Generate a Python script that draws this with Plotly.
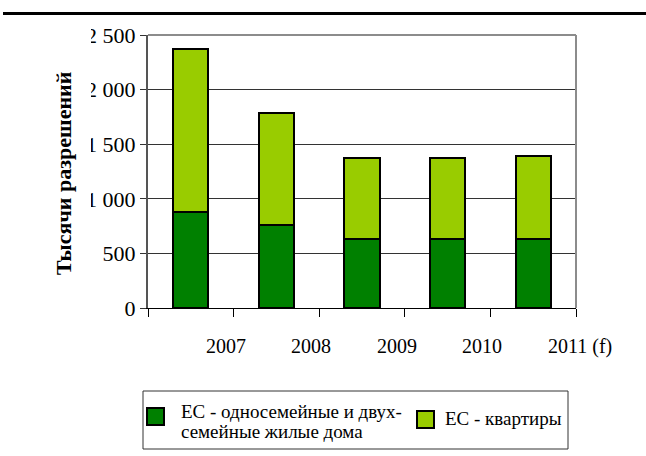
import plotly.graph_objects as go

# Building permits in the EU, thousands
years = ["2007", "2008", "2009", "2010", "2011 (f)"]
houses = [880, 760, 635, 635, 635]          # single- and two-family houses
apartments = [1490, 1030, 735, 735, 755]    # apartments
series_names = ["ЕС - односемейные и двух-<br>семейные жилые дома", "ЕС - квартиры"]
series_colors = ["#008000", "#99CC00"]
y_ticks = [0, 500, 1000, 1500, 2000, 2500]
y_tick_text = ["0", "500", "1 000", "1 500", "2 000", "2 500"]
y_title = "Тысячи разрешений"

W, H = 646, 456
L, R, T, B = 148, 576, 35, 308   # plot area in pixels
SERIF = "Liberation Serif"


def px(x):
    return (x - L) / (R - L)


def py(y):
    return (B - y) / (B - T)


fig = go.Figure()
for vals, name, color in zip([houses, apartments], series_names, series_colors):
    fig.add_trace(go.Bar(
        x=years, y=vals, name=name, width=0.41,
        marker=dict(color=color, line=dict(color="black", width=2)),
        showlegend=False,
    ))

shapes = [
    # rule across the top of the page
    dict(type="line", xref="paper", yref="paper", x0=px(3), x1=px(646),
         y0=py(13.5), y1=py(13.5), line=dict(color="black", width=3)),
    # grey frame on top and right of the plot area
    dict(type="line", xref="paper", yref="paper", x0=0, x1=1, y0=1, y1=1,
         line=dict(color="#8c8c8c", width=2), layer="above"),
    dict(type="line", xref="paper", yref="paper", x0=1, x1=1, y0=0, y1=1,
         line=dict(color="#8c8c8c", width=2), layer="above"),
    # the tick-label column is cut off on its left side
    dict(type="rect", xref="paper", yref="paper", x0=px(80), x1=px(91),
         y0=py(215), y1=py(22), line=dict(width=0), fillcolor="white",
         layer="above"),
    # legend frame
    dict(type="rect", xref="paper", yref="paper", x0=px(143), x1=px(568),
         y0=py(449), y1=py(391), line=dict(color="#333", width=1),
         fillcolor="white"),
]

annotations = []
# category labels, left-aligned just before each category boundary
for i, yr in enumerate(years):
    annotations.append(dict(
        x=i + 0.5, y=0, xref="x", yref="paper", text=yr, showarrow=False,
        xanchor="left", yanchor="middle", xshift=-30, yshift=-38,
        font=dict(family=SERIF, size=20, color="black"),
    ))

# axis title
annotations.append(dict(
    x=px(63), y=py(173), xref="paper", yref="paper", text="<b>" + y_title + "</b>",
    textangle=-90, showarrow=False, xanchor="center", yanchor="middle",
    font=dict(family=SERIF, size=22, color="black"),
))

# legend entries
legend_items = [
    dict(sq=(147, 408), text_x=179, lines_y=[411, 431]),
    dict(sq=(417, 411), text_x=443, lines_y=[419]),
]
for item, name, color in zip(legend_items, series_names, series_colors):
    sx, sy = item["sq"]
    shapes.append(dict(type="rect", xref="paper", yref="paper",
                       x0=px(sx), x1=px(sx + 17), y0=py(sy + 17), y1=py(sy),
                       fillcolor=color, line=dict(color="black", width=2)))
    for line_text, ly in zip(name.split("<br>"), item["lines_y"]):
        annotations.append(dict(
            x=px(item["text_x"]), y=py(ly), xref="paper", yref="paper",
            text=line_text, showarrow=False, xanchor="left", yanchor="middle",
            font=dict(family=SERIF, size=19, color="black"),
        ))

fig.update_layout(
    width=W, height=H,
    margin=dict(l=L, r=W - R, t=T, b=H - B, pad=0),
    paper_bgcolor="white", plot_bgcolor="white",
    barmode="stack",
    font=dict(family=SERIF, size=20, color="black"),
    xaxis=dict(
        type="category", range=[-0.5, 4.5], tickson="boundaries",
        showticklabels=False, ticks="outside", ticklen=8, tickcolor="black",
        showline=True, linecolor="black", linewidth=1, showgrid=False,
    ),
    yaxis=dict(
        range=[0, 2500], tickvals=y_ticks, ticktext=y_tick_text,
        ticks="outside", ticklen=6, tickcolor="#333",
        showline=True, linecolor="#555", linewidth=2,
        showgrid=True, gridcolor="#333", gridwidth=1, zeroline=False,
        tickfont=dict(family=SERIF, size=22, color="black"),
    ),
    shapes=shapes,
    annotations=annotations,
)

fig.write_html("out.html")
